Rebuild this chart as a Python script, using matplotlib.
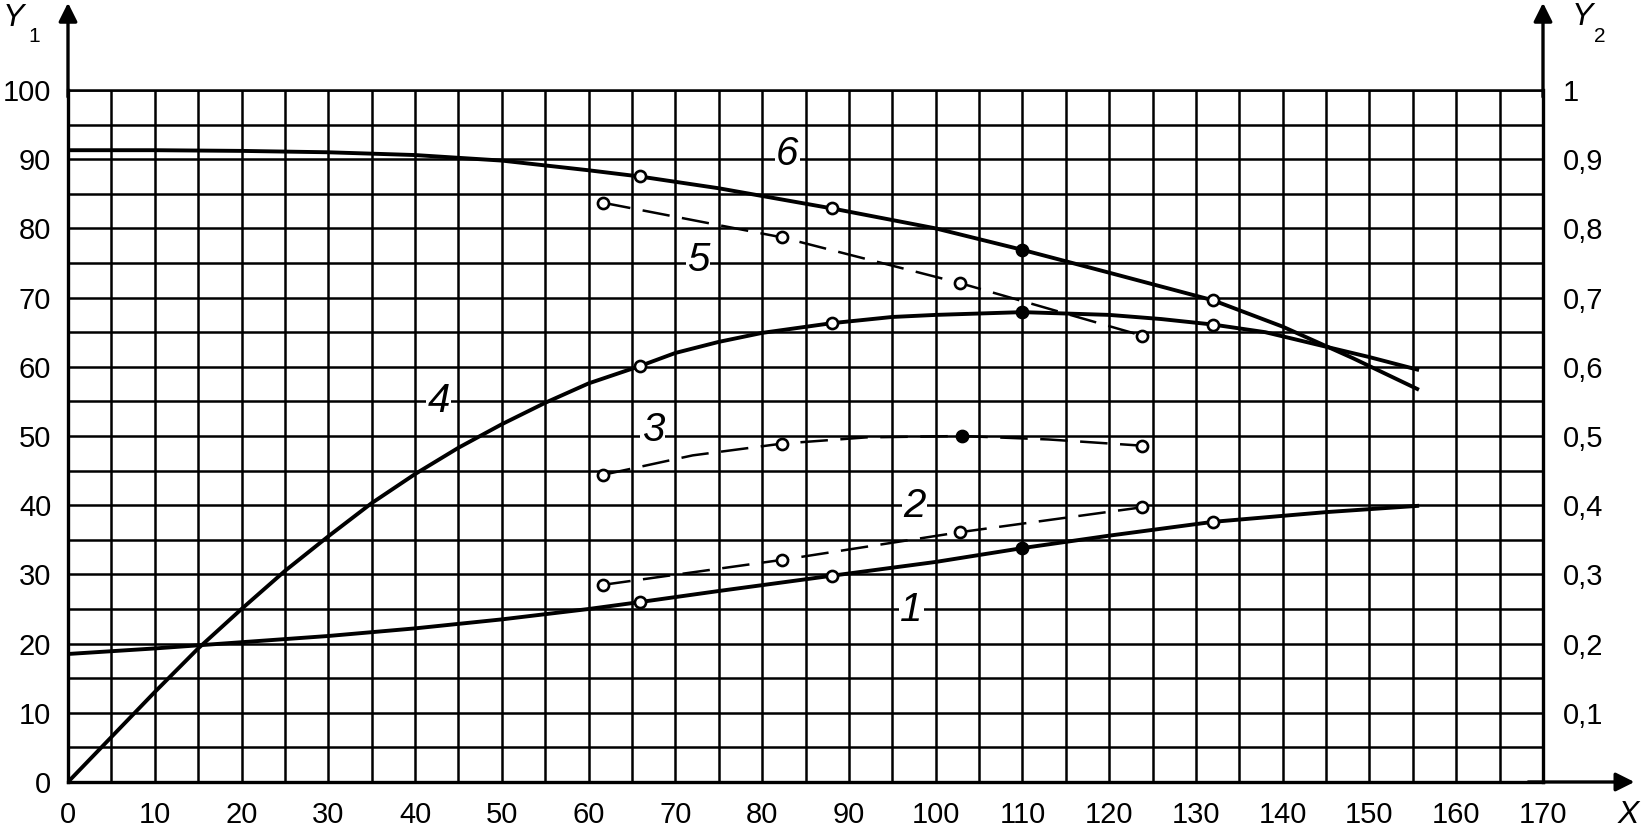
import matplotlib
matplotlib.use("Agg")
import matplotlib.pyplot as plt

plt.rcParams['font.family'] = ['Liberation Sans', 'DejaVu Sans']

# curve 1 (solid)
x1 = [0, 10, 20, 30, 40, 50, 60, 65.9, 75, 88, 100, 110, 120, 132, 145, 155.5]
y1 = [18.5, 19.3, 20.2, 21.1, 22.2, 23.5, 25.0, 26.0, 27.6, 29.8, 31.8, 33.8, 35.6, 37.6, 39.0, 39.9]
m1x = [65.9, 88, 110, 132]
m1y = [26.0, 29.8, 33.8, 37.6]

# curve 2 (dashed)
x2 = [61.7, 82.3, 102.8, 123.8]
y2 = [28.5, 32.1, 36.1, 39.7]

# curve 3 (dashed)
x3 = [61.7, 72, 82.3, 92, 103, 113, 123.8]
y3 = [44.4, 47.2, 48.9, 49.8, 50.0, 49.5, 48.6]
m3x = [61.7, 82.3, 103, 123.8]
m3y = [44.4, 48.9, 50.0, 48.6]

# curve 4 (solid)
x4 = [0, 5, 10, 15, 20, 25, 30, 35, 40, 45, 50, 55, 60, 65.9, 70, 75, 80, 88, 95, 100, 110,
      120, 126, 132, 138, 144, 150, 155.5]
y4 = [0, 6.5, 13, 19.3, 25, 30.5, 35.5, 40.3, 44.5, 48.3, 51.7, 54.8, 57.6, 60.1, 62.0, 63.6, 64.9,
      66.3, 67.2, 67.5, 67.9, 67.5, 66.9, 66.1, 65.0, 63.2, 61.4, 59.6]
m4x = [65.9, 88, 110, 132]
m4y = [60.1, 66.3, 67.9, 66.1]

# curve 5 (dashed)
x5 = [61.7, 82.3, 102.8, 123.8]
y5 = [83.7, 78.7, 72.1, 64.5]

# curve 6 (solid)
x6 = [0, 10, 20, 30, 40, 50, 60, 65.9, 75, 88, 100, 110, 120, 132, 140, 148, 155.5]
y6 = [91.3, 91.3, 91.2, 91.0, 90.6, 89.8, 88.4, 87.5, 85.8, 82.9, 80.0, 76.9, 73.6, 69.6, 65.8, 61.3, 56.8]
m6x = [65.9, 88, 110, 132]
m6y = [87.5, 82.9, 76.9, 69.6]

# filled points
fx = [110, 110, 103, 110]
fy = [76.9, 67.9, 50.0, 33.8]

labels = ["1", "2", "3", "4", "5", "6"]
lab_x = [97.2, 97.6, 67.4, 42.7, 72.6, 82.9]
lab_y = [24.8, 39.9, 50.8, 55.0, 75.5, 90.7]

fig = plt.figure(figsize=(16.44, 8.30), dpi=100)
ax = fig.add_axes([68/1644, 48/830, 1475/1644, 692/830])
ax.set_xlim(0, 170)
ax.set_ylim(0, 100)

ax.set_xticks(range(0, 171, 10))
ax.set_yticks(range(0, 101, 10))
ax.set_xticks(range(5, 171, 10), minor=True)
ax.set_yticks(range(5, 101, 10), minor=True)
ax.grid(True, which='both', color='black', lw=1.8)
ax.set_axisbelow(True)
ax.tick_params(which='both', length=0, labelsize=21)
ax.tick_params(axis='x', pad=14)
ax.tick_params(axis='y', pad=12)
for s in ax.spines.values():
    s.set_linewidth(2.4)
ax.spines['top'].set_linewidth(1.8)

ax2 = ax.twinx()
ax2.set_ylim(0, 1)
ax2.set_yticks([i / 10 for i in range(1, 11)])
ax2.set_yticklabels(["0,%d" % i for i in range(1, 10)] + ["1"])
ax2.tick_params(length=0, labelsize=21, pad=14)
for s in ax2.spines.values():
    s.set_visible(False)

solid = dict(color='black', lw=2.8, zorder=3)
dashed = dict(color='black', lw=1.8, dashes=(11, 5), zorder=3)
mk = dict(ls='none', marker='o', ms=8, mfc='white', mec='black', mew=1.9, zorder=4)

ax.plot(x1, y1, **solid)
ax.plot(x4, y4, **solid)
ax.plot(x6, y6, **solid)
ax.plot(x2, y2, **dashed)
ax.plot(x3, y3, **dashed)
ax.plot(x5, y5, **dashed)

ax.plot(m1x, m1y, **mk)
ax.plot(x2, y2, **mk)
ax.plot(m3x, m3y, **mk)
ax.plot(m4x, m4y, **mk)
ax.plot(x5, y5, **mk)
ax.plot(m6x, m6y, **mk)
ax.plot(fx, fy, ls='none', marker='o', ms=8, color='black', zorder=5)

for t, lx, ly in zip(labels, lab_x, lab_y):
    ax.text(lx, ly, t, fontsize=29, style='italic', ha='center', va='center', zorder=2,
            bbox=dict(fc='white', ec='none', pad=1))

# axis arrows
arr = dict(arrowstyle='-|>', mutation_scale=28, lw=2.4, color='black', shrinkA=0, shrinkB=0)
ax.annotate('', xy=(0, 1.126), xytext=(0, 0.99), xycoords='axes fraction', arrowprops=arr, annotation_clip=False)
ax.annotate('', xy=(1, 1.126), xytext=(1, 0.99), xycoords='axes fraction', arrowprops=arr, annotation_clip=False)
ax.annotate('', xy=(1.062, 0), xytext=(0.99, 0), xycoords='axes fraction', arrowprops=arr, annotation_clip=False)

fig.text(3/1644, 1 - 18/830, 'Y', fontsize=23, style='italic', ha='left', va='center')
fig.text(28/1644, 1 - 27/830, '1', fontsize=15, ha='left', va='top')
fig.text(1572/1644, 1 - 17/830, 'Y', fontsize=23, style='italic', ha='left', va='center')
fig.text(1594/1644, 1 - 27/830, '2', fontsize=15, ha='left', va='top')
fig.text(1628/1644, 1 - 815/830, 'X', fontsize=23, style='italic', ha='center', va='center')

fig.savefig('out.png', dpi=100, facecolor='white')
